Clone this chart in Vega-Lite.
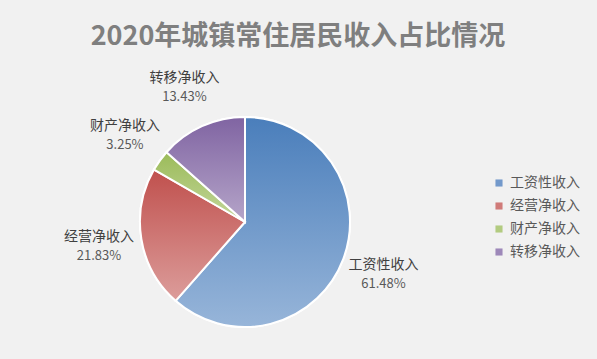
{
  "$schema": "https://vega.github.io/schema/vega-lite/v6.json",
  "width": 490,
  "height": 264,
  "autosize": "none",
  "padding": {"top": 90, "left": 0, "right": 107, "bottom": 5},
  "background": "#f1f1f1",
  "title": {
    "text": "2020年城镇常住居民收入占比情况",
    "fontSize": 27,
    "font": "Noto Sans CJK SC",
    "fontWeight": "bold",
    "color": "#7f7f7f",
    "anchor": "middle",
    "dx": 53,
    "offset": 20
  },
  "view": {"stroke": null},
  "data": {
    "values": [
      {"name": "工资性收入", "value": 61.48, "pct": "61.48%", "idx": 1},
      {"name": "经营净收入", "value": 21.83, "pct": "21.83%", "idx": 2},
      {"name": "财产净收入", "value": 3.25, "pct": "3.25%", "idx": 3},
      {"name": "转移净收入", "value": 13.43, "pct": "13.43%", "idx": 4}
    ]
  },
  "layer": [
    {
      "mark": {"type": "arc", "outerRadius": 105, "stroke": "white", "strokeWidth": 2},
      "encoding": {
        "theta": {"field": "value", "type": "quantitative", "stack": true},
        "order": {"field": "idx", "type": "quantitative"},
        "color": {
          "field": "name",
          "type": "nominal",
          "sort": ["工资性收入", "经营净收入", "财产净收入", "转移净收入"],
          "scale": {
            "domain": ["工资性收入", "经营净收入", "财产净收入", "转移净收入"],
            "range": ["#7399cb", "#d07b79", "#b2cb80", "#9d88b9"]
          },
          "legend": {
            "orient": "none",
            "legendX": 492,
            "legendY": 86,
            "title": null,
            "symbolType": "square",
            "symbolSize": 50,
            "symbolStrokeWidth": 0,
            "labelFontSize": 14,
            "labelFont": "Noto Sans CJK SC",
            "labelColor": "#595959",
            "rowPadding": 9
          }
        }
      }
    },
    {
      "transform": [
        {"stack": "value", "sortby": [{"field": "idx", "order": "ascending"}], "groupby": [], "as": ["v0", "v1"]},
        {"filter": "datum.idx == 1"}
      ],
      "mark": {"type": "arc", "outerRadius": 105, "stroke": "white", "strokeWidth": 2,
        "color": {"gradient": "linear", "x1": 0, "y1": 0, "x2": 0, "y2": 1, "stops": [{"offset": 0, "color": "#4a7ebb"}, {"offset": 1, "color": "#97b5d9"}]}},
      "encoding": {"theta": {"field": "v0", "type": "quantitative"}, "theta2": {"field": "v1"}}
    },
    {
      "transform": [
        {"stack": "value", "sortby": [{"field": "idx", "order": "ascending"}], "groupby": [], "as": ["v0", "v1"]},
        {"filter": "datum.idx == 2"}
      ],
      "mark": {"type": "arc", "outerRadius": 105, "stroke": "white", "strokeWidth": 2,
        "color": {"gradient": "linear", "x1": 0, "y1": 0, "x2": 0, "y2": 1, "stops": [{"offset": 0, "color": "#c0504d"}, {"offset": 1, "color": "#dc9d9b"}]}},
      "encoding": {"theta": {"field": "v0", "type": "quantitative"}, "theta2": {"field": "v1"}}
    },
    {
      "transform": [
        {"stack": "value", "sortby": [{"field": "idx", "order": "ascending"}], "groupby": [], "as": ["v0", "v1"]},
        {"filter": "datum.idx == 3"}
      ],
      "mark": {"type": "arc", "outerRadius": 105, "stroke": "white", "strokeWidth": 2,
        "color": {"gradient": "linear", "x1": 0, "y1": 0, "x2": 0, "y2": 1, "stops": [{"offset": 0, "color": "#9bbb59"}, {"offset": 1, "color": "#c3d69b"}]}},
      "encoding": {"theta": {"field": "v0", "type": "quantitative"}, "theta2": {"field": "v1"}}
    },
    {
      "transform": [
        {"stack": "value", "sortby": [{"field": "idx", "order": "ascending"}], "groupby": [], "as": ["v0", "v1"]},
        {"filter": "datum.idx == 4"}
      ],
      "mark": {"type": "arc", "outerRadius": 105, "stroke": "white", "strokeWidth": 2,
        "color": {"gradient": "linear", "x1": 0, "y1": 0, "x2": 0, "y2": 1, "stops": [{"offset": 0, "color": "#8064a2"}, {"offset": 1, "color": "#b5a5c9"}]}},
      "encoding": {"theta": {"field": "v0", "type": "quantitative"}, "theta2": {"field": "v1"}}
    },
    {
      "mark": {"type": "text", "radius": 148, "dy": -9, "fontSize": 14, "font": "Noto Sans CJK SC", "color": "#404040"},
      "encoding": {
        "theta": {"field": "value", "type": "quantitative", "stack": true},
        "order": {"field": "idx", "type": "quantitative"},
        "text": {"field": "name", "type": "nominal"}
      }
    },
    {
      "mark": {"type": "text", "radius": 148, "dy": 10, "fontSize": 13, "font": "Noto Sans CJK SC", "color": "#595959"},
      "encoding": {
        "theta": {"field": "value", "type": "quantitative", "stack": true},
        "order": {"field": "idx", "type": "quantitative"},
        "text": {"field": "pct", "type": "nominal"}
      }
    }
  ]
}
